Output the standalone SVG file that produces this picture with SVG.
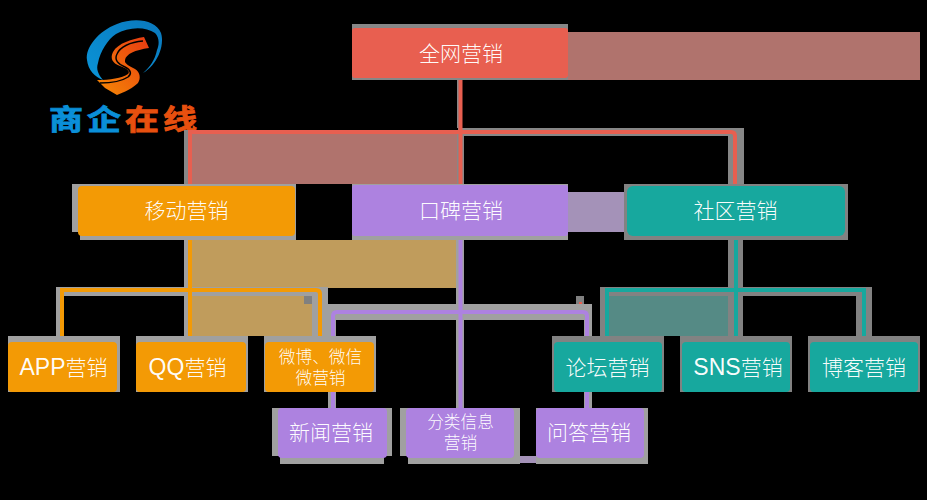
<svg xmlns="http://www.w3.org/2000/svg" width="927" height="500" viewBox="0 0 927 500">
<style>
text{font-family:"Noto Sans CJK SC","Noto Sans",sans-serif;fill:#fff;fill-opacity:.97;text-anchor:middle;font-weight:300}
.t{font-size:21px}.s{font-size:16.7px}
.lat{font-family:"Liberation Sans",Arial,sans-serif;font-size:23px}
.l{font-size:34px;font-weight:700;fill-opacity:1;text-anchor:start;stroke-width:1}
.bl{fill:#0a8fd8;stroke:#0a8fd8}.rd{fill:#e8500f;stroke:#e8500f}
.halo{fill:#a0a0a0}.halod{fill:#828282}.halor{fill:#878787}
.r{fill:#e85f50}.o{fill:#f39a05}.p{fill:#ad82e0}.g{fill:#17a89e}
.c{fill:none;stroke-width:4}
</style>
<defs>
<linearGradient id="sg" x1="0" y1="1" x2="1" y2="0"><stop offset="0" stop-color="#f58a05"/><stop offset="1" stop-color="#e83a12"/></linearGradient>
<linearGradient id="bg" x1="0" y1="1" x2="1" y2="0"><stop offset="0" stop-color="#0a94d8"/><stop offset="1" stop-color="#0a78bc"/></linearGradient>
</defs>
<rect width="927" height="500" fill="#000"/>
<g id="logo">
<path fill="url(#bg)" d="M143,73C157,65 165,46 161,33C156,20 135,17 117,24C98,31 85,48 87,60C88,70 95,77 103,80C98,74 96,69 98,63C100,52 108,39 116,34C128,27 145,26 155,33C160,38 159,46 157,50C155,60 150,67 143,73Z"/>
<path fill="url(#sg)" d="M144,37L149,48C135,50 126,54 125,60C124,64 130,66 135,69C140,72 141,78 138,83C133,88 125,92 117,95L105,88L97,80C110,80 122,78 128,74C131,71 126,68 120,66C112,63 110,58 113,52C118,43 132,39 144,37Z"/>
<path fill="none" stroke="#000" stroke-width="1.5" d="M143,41C130,42 120,47 117,54C114,60 118,64 125,67C131,70 132,74 128,77C122,81 110,83 100,83"/>
<g transform="translate(0,130) scale(1,.84)">
<text class="l bl" x="49" y="0">商</text>
<text class="l bl" x="87" y="0">企</text>
<text class="l rd" x="125" y="0">在</text>
<text class="l rd" x="163" y="0">线</text>
</g>
</g>
<g id="bands">
<rect x="568" y="32" width="352" height="48" fill="#b0736d"/>
<rect x="192" y="134" width="266" height="50" fill="#b0736d"/>
<rect x="568" y="192" width="57" height="40" fill="#a492b8"/>
<rect x="192" y="240" width="265" height="48" fill="#c09c5c"/>
<rect x="192" y="296" width="120" height="40" fill="#c09c5c"/>
<rect x="609" y="296" width="119" height="40" fill="#558a85"/>
<rect x="304" y="296" width="8" height="8" fill="#808080"/>
<rect x="576" y="296" width="8" height="8" fill="#808080"/>
<rect x="312" y="302.500" width="4" height="1" fill="#e85f50"/>
<rect x="579" y="302" width="3" height="2" fill="#e85f50"/>
</g>
<g id="connector-halos">
<path class="halor" d="M457,80h2v48h-2zM184,130H458V128H744V184H728V136H464V184H457V134H188V184H184Z"/>
<path class="halo" d="M184,236h4v52h-4zM56,287H328V336H312V296H192V336H184V296H64V336H56Z"/>
<path class="halo" d="M456,236h8v68h-8zM328,304H592V342H584V320H464V408H456V320H336V342H328ZM328,392h8v16h-8zM584,392h8v16h-8z"/>
<path class="halod" d="M728,236h15v52h-15zM600,287H872V336H856V296H743V336H728V296H609V336H600Z"/>
<rect x="514" y="456" width="22" height="7" fill="#a492b8"/>
</g>
<g id="connectors">
<path class="c" stroke="#e85f50" d="M460.500,78V186M190,186V132H731Q735,132 735,136V186"/>
<path class="c" stroke="#f39a05" d="M190,236V342M62,342V290H316Q320,290 320,294V342"/>
<path class="c" stroke="#ad82e0" d="M460.500,236V408M333,408V316Q333,312 337,312H583Q587,312 587,316V408"/>
<path class="c" stroke="#17a89e" d="M736,236V342M607,342V290H864V342"/>
</g>
<g id="n-all">
<rect class="halor" x="352" y="24" width="216" height="56"/>
<rect class="r" x="352" y="28" width="216" height="50" rx="3"/>
<text class="t" x="461" y="61">全网营销</text>
</g>
<g id="n-mobile">
<path class="halo" d="M72,184H296V240H80V232H72Z"/>
<rect class="o" x="78" y="186" width="217" height="50" rx="4"/>
<text class="t" x="186.500" y="218">移动营销</text>
</g>
<g id="n-word">
<rect class="halo" x="352" y="184" width="216" height="56"/>
<rect class="p" x="352" y="185" width="216" height="51" rx="3"/>
<text class="t" x="461" y="218">口碑营销</text>
</g>
<g id="n-community">
<rect class="halod" x="624" y="184" width="224" height="56"/>
<rect class="g" x="627" y="186" width="218" height="50" rx="6"/>
<text class="t" x="735.500" y="218">社区营销</text>
</g>
<g id="n-app">
<rect class="halo" x="8" y="336" width="112" height="56"/>
<rect class="o" x="8" y="342" width="109" height="50" rx="4"/>
<text class="t" x="63.500" y="375"><tspan class="lat">APP</tspan>营销</text>
</g>
<g id="n-qq">
<rect class="halo" x="136" y="336" width="112" height="56"/>
<rect class="o" x="136" y="342" width="110" height="50" rx="4"/>
<text class="t" x="187.500" y="375"><tspan class="lat">QQ</tspan>营销</text>
</g>
<g id="n-weibo">
<rect class="halo" x="264" y="336" width="112" height="56"/>
<rect class="o" x="265" y="342" width="109" height="50" rx="4"/>
<text class="s" x="320.500" y="363">微博、微信</text>
<text class="s" x="320.500" y="384">微营销</text>
</g>
<g id="n-news">
<path class="halo" d="M272,408H392V456H384V464H280V456H272Z"/>
<rect class="p" x="278" y="408" width="109" height="50" rx="4"/>
<text class="t" x="331" y="440">新闻营销</text>
</g>
<g id="n-classified">
<path class="halo" d="M400,408H520V464H408V456H400Z"/>
<rect class="p" x="406" y="408" width="108" height="50" rx="4"/>
<text class="s" x="460.500" y="428">分类信息</text>
<text class="s" x="460.500" y="449">营销</text>
</g>
<g id="n-qa">
<rect class="halo" x="536" y="408" width="112" height="56"/>
<rect class="p" x="536" y="408" width="108" height="50" rx="4"/>
<text class="t" x="589" y="440">问答营销</text>
</g>
<g id="n-forum">
<rect class="halod" x="552" y="336" width="112" height="56"/>
<rect class="g" x="554" y="342" width="108" height="50" rx="4"/>
<text class="t" x="607.500" y="375">论坛营销</text>
</g>
<g id="n-sns">
<rect class="halod" x="680" y="336" width="112" height="56"/>
<rect class="g" x="682" y="342" width="108" height="50" rx="4"/>
<text class="t" x="738" y="375"><tspan class="lat">SNS</tspan>营销</text>
</g>
<g id="n-blog">
<rect class="halod" x="808" y="336" width="112" height="56"/>
<rect class="g" x="810" y="342" width="108" height="50" rx="4"/>
<text class="t" x="864" y="375">博客营销</text>
</g>
</svg>
